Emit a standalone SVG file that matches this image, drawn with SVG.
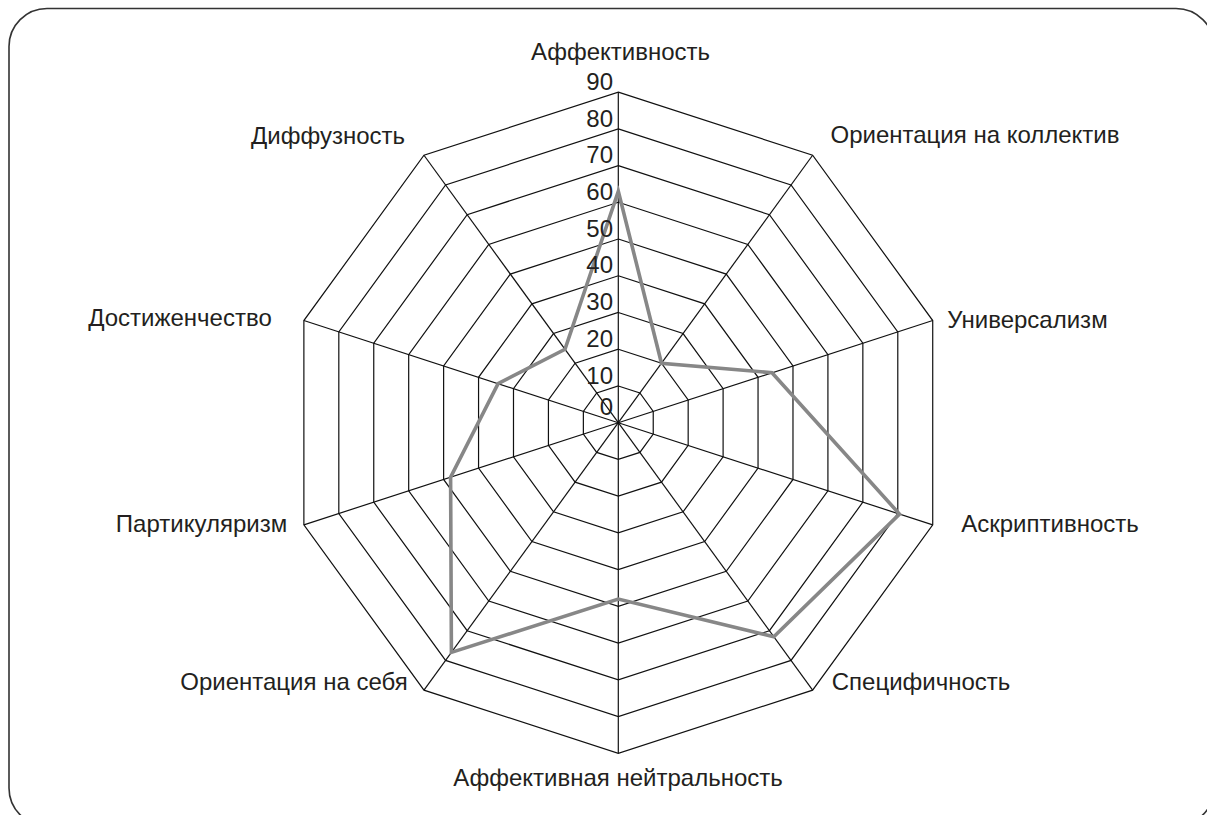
<svg xmlns="http://www.w3.org/2000/svg" width="1207" height="815" viewBox="0 0 1207 815">
<style>
.frame{fill:none;stroke:#333;stroke-width:1.6}
.ring{fill:none;stroke:#111;stroke-width:1.2}
.spoke{stroke:#111;stroke-width:1.2}
.data{fill:none;stroke:#878787;stroke-width:3.6;stroke-linejoin:miter}
.lbl{font-family:"Liberation Sans",Arial,sans-serif;font-size:24px;fill:#231f20;text-anchor:middle}
.tick{font-family:"Liberation Sans",Arial,sans-serif;font-size:24px;fill:#231f20;text-anchor:end}
</style>
<defs>
<polygon id="deca" points="0,-100 58.779,-80.902 95.106,-30.902 95.106,30.902 58.779,80.902 0,100 -58.779,80.902 -95.106,30.902 -95.106,-30.902 -58.779,-80.902" vector-effect="non-scaling-stroke"/>
</defs>
<rect class="frame" x="9" y="8.5" width="1205" height="817.5" rx="38" ry="38"/>
<g id="grid" transform="translate(618.3,422.7)">
<use href="#deca" class="ring" transform="scale(0.36733)"/>
<use href="#deca" class="ring" transform="scale(0.73467)"/>
<use href="#deca" class="ring" transform="scale(1.102)"/>
<use href="#deca" class="ring" transform="scale(1.46933)"/>
<use href="#deca" class="ring" transform="scale(1.83667)"/>
<use href="#deca" class="ring" transform="scale(2.204)"/>
<use href="#deca" class="ring" transform="scale(2.57133)"/>
<use href="#deca" class="ring" transform="scale(2.93867)"/>
<use href="#deca" class="ring" transform="scale(3.306)"/>
</g>
<g id="connectors" transform="translate(618.3,422.7)">
<line class="spoke" x1="0" y1="0" x2="0" y2="-330.6"/>
<line class="spoke" x1="0" y1="0" x2="194.32" y2="-267.46"/>
<line class="spoke" x1="0" y1="0" x2="314.42" y2="-102.16"/>
<line class="spoke" x1="0" y1="0" x2="314.42" y2="102.16"/>
<line class="spoke" x1="0" y1="0" x2="194.32" y2="267.46"/>
<line class="spoke" x1="0" y1="0" x2="0" y2="330.6"/>
<line class="spoke" x1="0" y1="0" x2="-194.32" y2="267.46"/>
<line class="spoke" x1="0" y1="0" x2="-314.42" y2="102.16"/>
<line class="spoke" x1="0" y1="0" x2="-314.42" y2="-102.16"/>
<line class="spoke" x1="0" y1="0" x2="-194.32" y2="-267.46"/>
<polygon id="series" class="data" points="0,-231.4 43.18,-59.44 153.7,-49.95 281.2,91.38 155.5,214.0 0,176.3 -166.9,229.7 -167.7,54.48 -120.2,-39.05 -53.33,-73.40"/>
</g>
<g id="ticks">
<text class="tick" x="613" y="90">90</text>
<text class="tick" x="613" y="126.5">80</text>
<text class="tick" x="613" y="163.2">70</text>
<text class="tick" x="613" y="200">60</text>
<text class="tick" x="613" y="236.7">50</text>
<text class="tick" x="613" y="273.4">40</text>
<text class="tick" x="613" y="310.1">30</text>
<text class="tick" x="613" y="346.9">20</text>
<text class="tick" x="613" y="383.6">10</text>
<text class="tick" x="613" y="415">0</text>
</g>
<g id="n-affekt"><text class="lbl" x="620.5" y="60">Аффективность</text></g>
<g id="n-kollektiv"><text class="lbl" x="975" y="143">Ориентация на коллектив</text></g>
<g id="n-universal"><text class="lbl" x="1027.5" y="328">Универсализм</text></g>
<g id="n-askript"><text class="lbl" x="1050" y="532">Аскриптивность</text></g>
<g id="n-specif"><text class="lbl" x="921" y="690">Специфичность</text></g>
<g id="n-neutral"><text class="lbl" x="618" y="786">Аффективная нейтральность</text></g>
<g id="n-sebya"><text class="lbl" x="294" y="690">Ориентация на себя</text></g>
<g id="n-partik"><text class="lbl" x="201.5" y="532">Партикуляризм</text></g>
<g id="n-dostizh"><text class="lbl" x="180" y="326">Достиженчество</text></g>
<g id="n-diffuz"><text class="lbl" x="328" y="144">Диффузность</text></g>
</svg>
